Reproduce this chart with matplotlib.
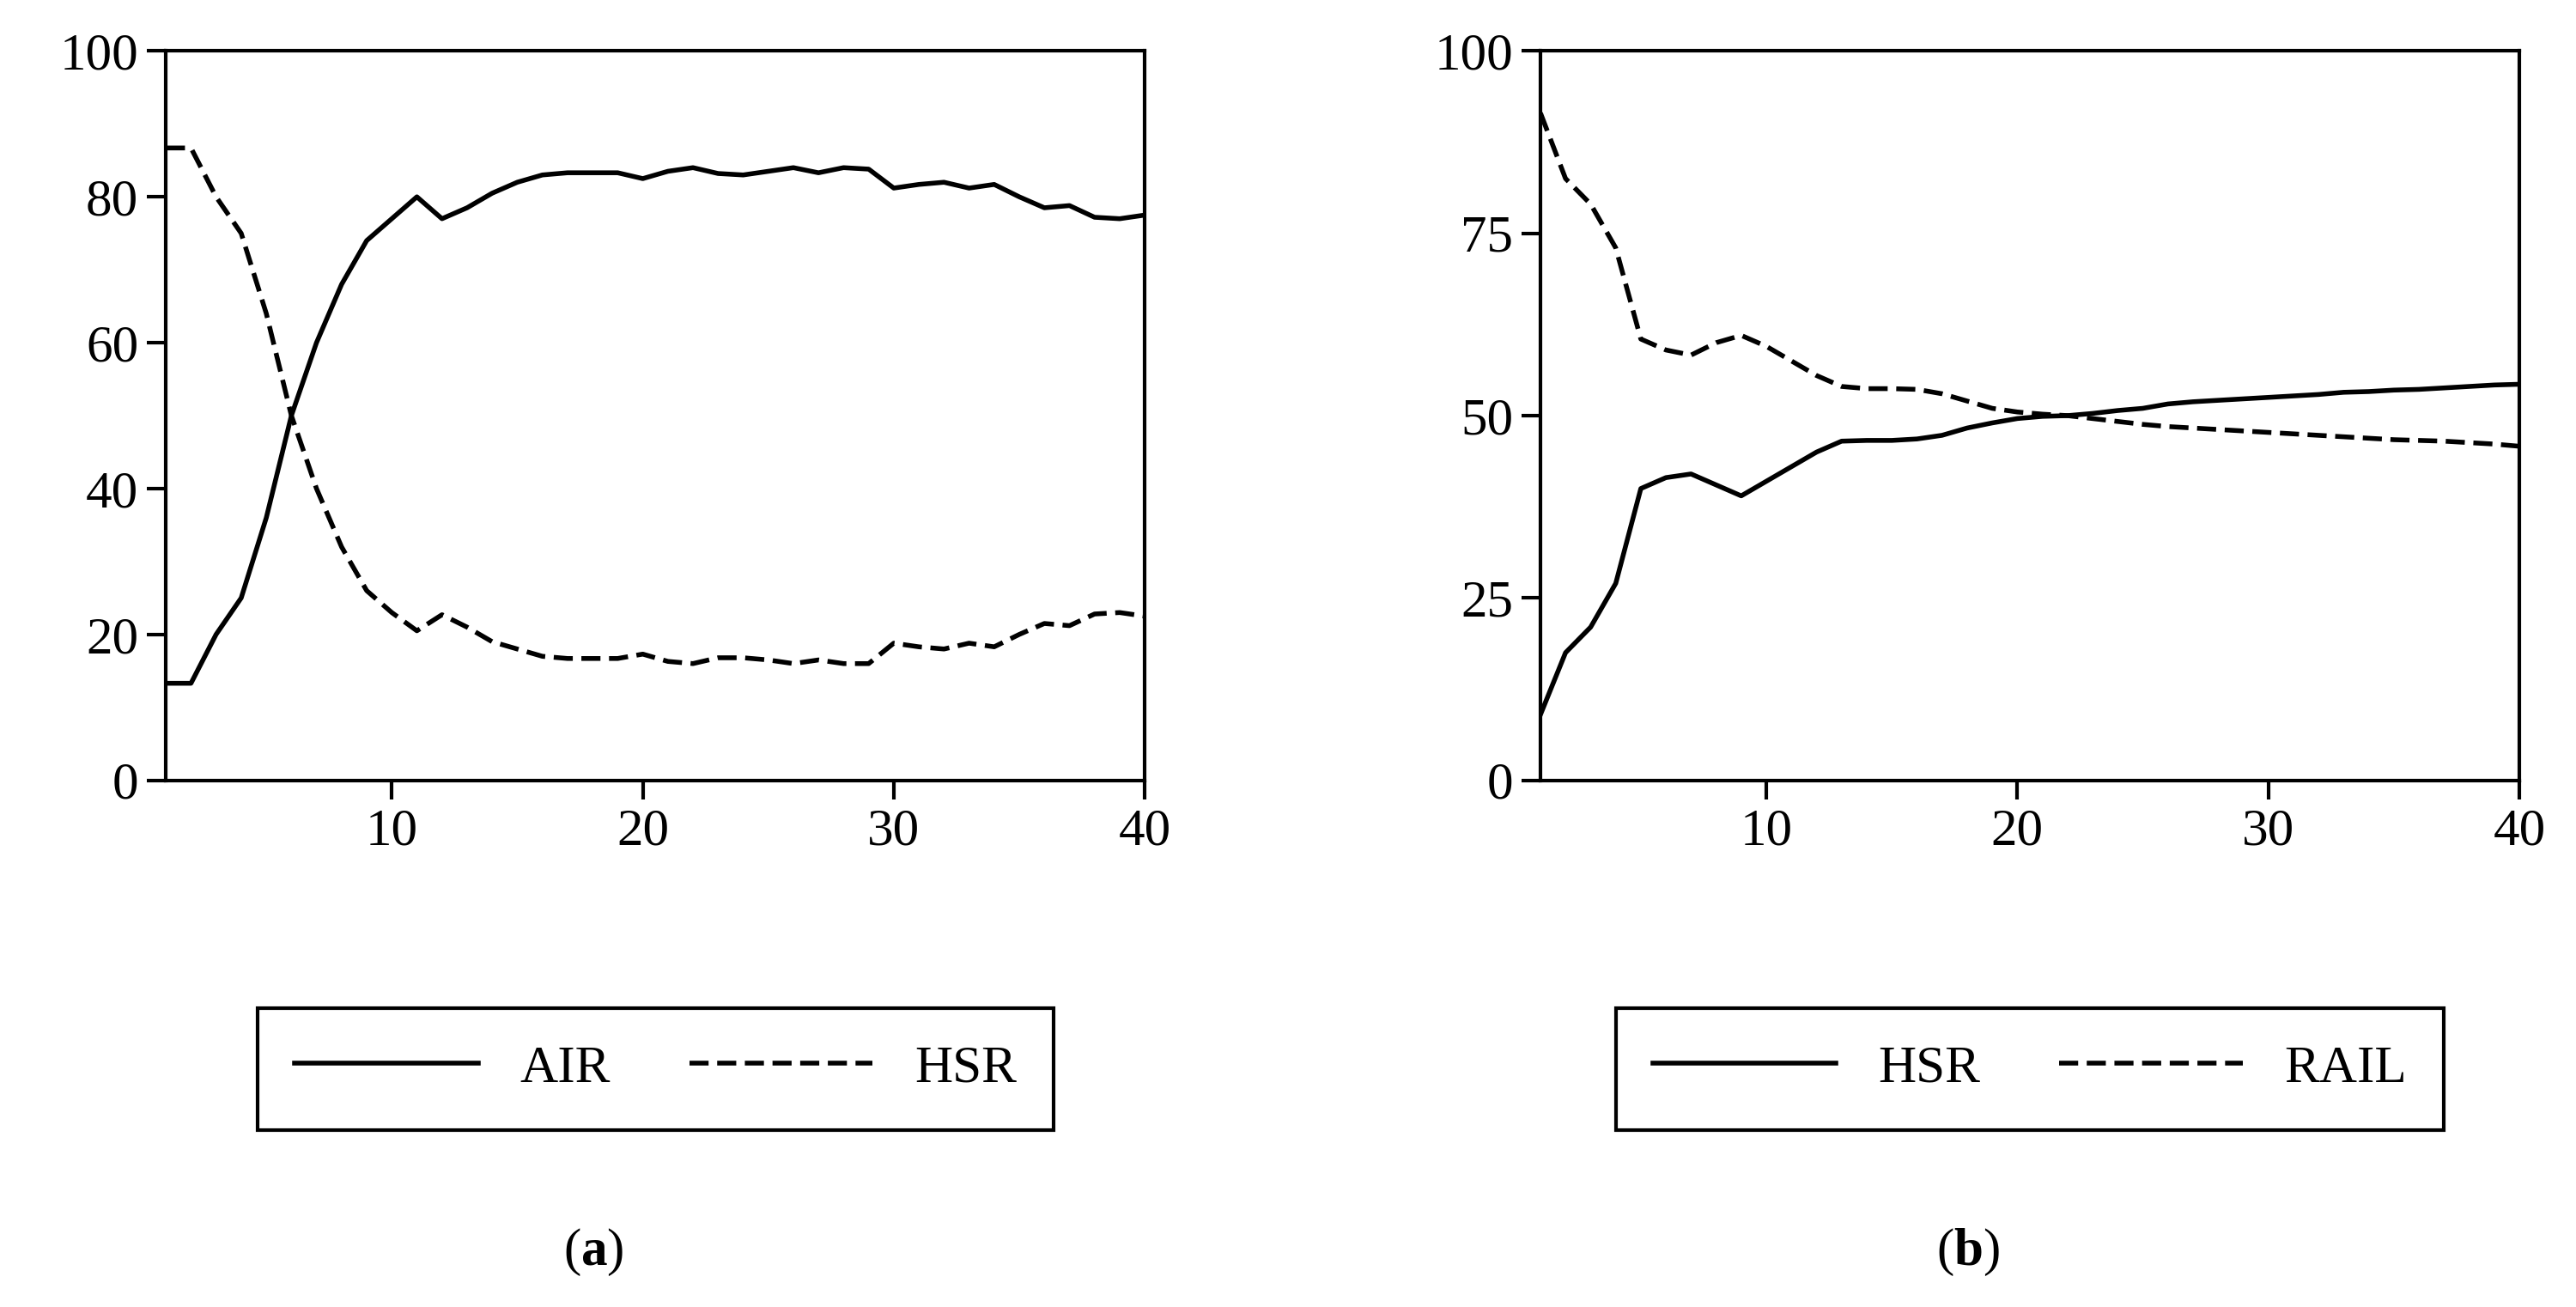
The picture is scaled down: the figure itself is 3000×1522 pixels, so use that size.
import numpy as np
import matplotlib
matplotlib.use("Agg")
import matplotlib.pyplot as plt

plt.rcParams['font.family'] = ['Liberation Serif', 'DejaVu Serif']
plt.rcParams['mathtext.fontset'] = 'custom'
plt.rcParams['mathtext.bf'] = 'Liberation Serif:bold'
plt.rcParams['mathtext.rm'] = 'Liberation Serif'

periods = np.arange(1, 41)

# panel (a)
air = [13.3, 13.3, 20, 25, 36, 50, 60, 68, 74, 77, 80, 77, 78.5, 80.5, 82, 83, 83.3, 83.3, 83.3, 82.5,
       83.5, 84, 83.2, 83, 83.5, 84, 83.3, 84, 83.8, 81.2, 81.7, 82, 81.2, 81.7, 80, 78.5, 78.8, 77.2, 77, 77.5]
hsr_a = [86.7, 86.7, 80, 75, 64, 50, 40, 32, 26, 23, 20.5, 22.7, 21, 19, 18, 17, 16.7, 16.7, 16.7, 17.3,
         16.3, 16, 16.8, 16.8, 16.5, 16, 16.5, 16, 16, 18.8, 18.3, 18, 18.8, 18.3, 20, 21.5, 21.2, 22.8, 23, 22.5]

# panel (b)
hsr_b = [9, 17.5, 21, 27, 40, 41.5, 42, 40.5, 39, 41, 43, 45, 46.5, 46.6, 46.6, 46.8, 47.3, 48.3, 49, 49.6,
         49.9, 50, 50.3, 50.7, 51, 51.6, 51.9, 52.1, 52.3, 52.5, 52.7, 52.9, 53.2, 53.3, 53.5, 53.6, 53.8, 54, 54.2, 54.3]
rail = [91.5, 82.5, 79, 73, 60.5, 59, 58.3, 60, 61, 59.5, 57.5, 55.5, 54, 53.7, 53.7, 53.6, 53, 52, 51, 50.5,
        50.2, 50, 49.6, 49.2, 48.8, 48.5, 48.3, 48.1, 47.9, 47.7, 47.5, 47.3, 47.1, 46.9, 46.7, 46.6, 46.5, 46.3, 46.1, 45.8]

panels = [
    ([air, hsr_a], ["AIR", "HSR"], [0, 20, 40, 60, 80, 100], "a", 0.0644, 0.2545),
    ([hsr_b, rail], ["HSR", "RAIL"], [0, 25, 50, 75, 100], "b", 0.598, 0.788),
]

fig = plt.figure(figsize=(15, 7.61), dpi=200)
for series, names, yticks, tag, left, cx in panels:
    ax = fig.add_axes([left, 0.403, 0.38, 0.558])
    ax.plot(periods, series[0], color="black", lw=2, label=names[0])
    ax.plot(periods, series[1], color="black", lw=2, ls=(0, (4, 1.8)), label=names[1])
    ax.set_xlim(1, 40)
    ax.set_ylim(0, 100)
    ax.set_xticks([10, 20, 30, 40])
    ax.set_yticks(yticks)
    ax.tick_params(labelsize=22, width=1.5, length=8, direction="out")
    for s in ax.spines.values():
        s.set_linewidth(1.5)
    leg = fig.legend(*ax.get_legend_handles_labels(), loc="center", bbox_to_anchor=(cx, 0.182),
                     ncol=2, fontsize=22, frameon=True, fancybox=False, edgecolor="black",
                     handlelength=3.5, columnspacing=1.5, borderpad=0.7, framealpha=1)
    leg.get_frame().set_linewidth(1.5)
    fig.text(cx - 0.024, 0.042, "($\\mathbf{%s}$)" % tag, fontsize=22, ha="center", va="center")

fig.savefig("out.png", dpi=200)
